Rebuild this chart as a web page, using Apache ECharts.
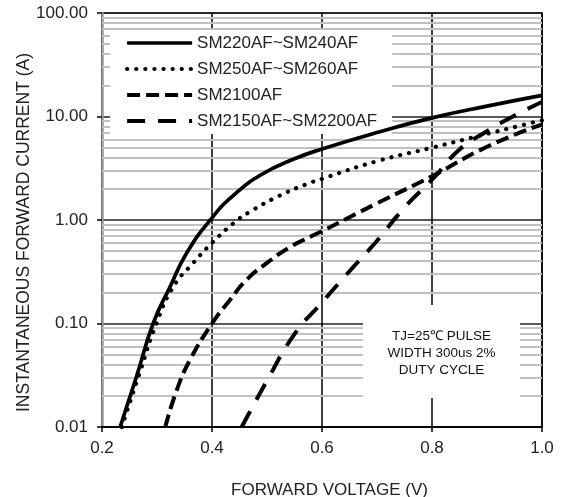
<!DOCTYPE html>
<html><head><meta charset="utf-8">
<script src="https://cdn.jsdelivr.net/npm/echarts@6/dist/echarts.min.js"></script>
<style>html,body{margin:0;padding:0;background:#fff}#c{width:568px;height:497px}</style>
</head><body><div id="c"></div>
<script>
const seriesNames = ['SM220AF~SM240AF', 'SM250AF~SM260AF', 'SM2100AF', 'SM2150AF~SM2200AF'];

const voltA = [0.233, 0.263, 0.293, 0.324, 0.354, 0.400, 0.440, 0.490, 0.550, 0.600, 0.700, 0.800, 0.900, 1.000];
const currA = [0.01, 0.031, 0.1, 0.228, 0.48, 1.05, 1.75, 2.75, 3.9, 4.85, 7.0, 9.7, 12.6, 16.0];

const voltB = [0.236, 0.269, 0.299, 0.330, 0.366, 0.400, 0.440, 0.470, 0.520, 0.570, 0.600, 0.700, 0.800, 0.900, 1.000];
const currB = [0.01, 0.034, 0.1, 0.228, 0.385, 0.6, 0.94, 1.21, 1.69, 2.2, 2.5, 3.7, 5.0, 6.8, 9.2];

const voltC = [0.315, 0.336, 0.360, 0.400, 0.433, 0.463, 0.500, 0.540, 0.580, 0.600, 0.700, 0.800, 0.900, 1.000];
const currC = [0.01, 0.0228, 0.0445, 0.1, 0.17, 0.265, 0.385, 0.54, 0.695, 0.78, 1.45, 2.65, 5.1, 8.4];

const voltD = [0.454, 0.500, 0.550, 0.600, 0.650, 0.700, 0.750, 0.800, 0.850, 0.900, 0.950, 1.000];
const currD = [0.01, 0.028, 0.079, 0.16, 0.32, 0.63, 1.32, 2.45, 4.8, 7.2, 10.2, 13.8];

const minorLevels = [0.02,0.03,0.04,0.05,0.06,0.07,0.08,0.09,
                     0.2,0.3,0.4,0.5,0.6,0.7,0.8,0.9,
                     2,3,4,5,6,7,8,9,
                     20,30,40,50,60,70,80,90];

const noteText = 'TJ=25\u2103 PULSE\nWIDTH 300us 2%\nDUTY CYCLE';

const FONT = '"Liberation Sans", Arial, sans-serif';
const pair = (xs, ys) => xs.map((x, i) => [x, ys[i]]);

const styles = [
  { width: 3.7, type: 'solid', cap: 'butt' },
  { width: 4.2, type: [0.1, 9], cap: 'round' },
  { width: 4, type: [13, 6], cap: 'butt' },
  { width: 4, type: [18, 13], cap: 'butt' }
];
const datasets = [pair(voltA, currA), pair(voltB, currB), pair(voltC, currC), pair(voltD, currD)];

const chart = echarts.init(document.getElementById('c'), null, { renderer: 'canvas' });
chart.setOption({
  animation: false,
  backgroundColor: '#fff',
  textStyle: { fontFamily: FONT },
  grid: { left: 102, right: 26, top: 13, bottom: 70, show: true, borderColor: '#000', borderWidth: 1.5,
          backgroundColor: 'transparent', outerBoundsMode: 'none', containLabel: false },
  xAxis: {
    type: 'value', min: 0.2, max: 1.0, interval: 0.2,
    axisLine: { lineStyle: { color: '#000', width: 2 } },
    axisTick: { show: true, inside: false, length: 5, lineStyle: { color: '#000', width: 1.5 } },
    axisLabel: { fontSize: 17, color: '#222', margin: 13, fontFamily: FONT, formatter: v => v.toFixed(1) },
    splitLine: { show: true, lineStyle: { color: '#000', width: 1.5 } },
    name: 'FORWARD VOLTAGE (V)', nameLocation: 'middle', nameGap: 55,
    nameTextStyle: { fontSize: 17, color: '#222', fontFamily: FONT, padding: [0, 0, 0, 15] }
  },
  yAxis: {
    type: 'log', logBase: 10, min: 0.01, max: 100,
    axisLine: { show: true, lineStyle: { color: '#999', width: 2.5 } },
    axisTick: { show: true, inside: false, length: 5, lineStyle: { color: '#000', width: 1.5 } },
    axisLabel: { fontSize: 17, color: '#222', margin: 14, fontFamily: FONT, formatter: v => Number(v).toFixed(2) },
    splitLine: { show: true, lineStyle: { color: '#222', width: 1.5 } },
    name: 'INSTANTANEOUS FORWARD CURRENT (A)', nameLocation: 'middle', nameGap: 69, nameMoveOverlap: false,
    nameTextStyle: { fontSize: 17.5, color: '#222', fontFamily: FONT, padding: [0, 25, 0, 0] }
  },
  legend: {
    orient: 'vertical', left: 110, top: 30, padding: [4, 15, 4, 15],
    itemGap: 8, itemWidth: 65, itemHeight: 14,
    backgroundColor: '#fff', z: 1.5, selectedMode: false,
    data: seriesNames,
    lineStyle: { width: 'inherit' },
    itemStyle: { opacity: 0 },
    textStyle: { fontSize: 17, color: '#222', lineHeight: 18, fontFamily: FONT }
  },
  graphic: [{
    type: 'group', left: 363, top: 305, z: 1.5,
    children: [
      { type: 'rect', z: 1.5, shape: { x: 0, y: 0, width: 157, height: 93 }, style: { fill: '#fff' } },
      { type: 'text', z: 1.6, x: 78.5, y: 48,
        style: { text: noteText, fill: '#111', font: '13.5px ' + FONT, align: 'center', verticalAlign: 'middle', lineHeight: 17 } }
    ]
  }],
  series: [
    {
      type: 'line', name: '_minor', data: [], silent: true,
      markLine: {
        silent: true, symbol: ['none', 'none'], z: 1, animation: false,
        label: { show: false },
        lineStyle: { color: '#c0c0c0', width: 2, type: 'solid' },
        data: minorLevels.map(v => ({ yAxis: v }))
      }
    }
  ].concat(seriesNames.map((n, i) => ({
    type: 'line', name: n, data: datasets[i],
    symbol: 'none', showSymbol: false, smooth: 0.5,
    lineStyle: Object.assign({ color: '#000' }, styles[i]),
    itemStyle: { color: '#000' },
    z: 3
  })))
});
</script></body></html>
